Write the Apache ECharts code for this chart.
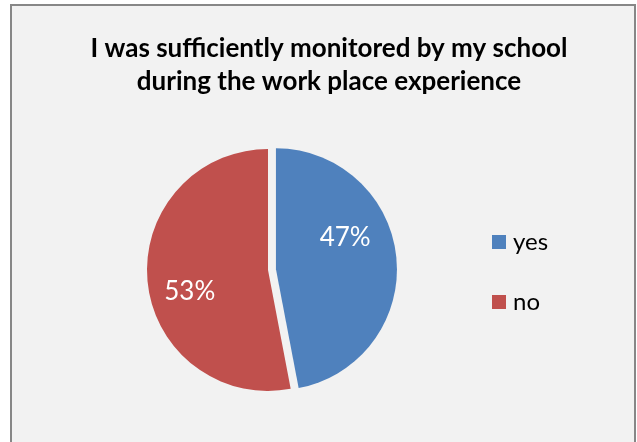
<!DOCTYPE html>
<html>
<head>
<meta charset="utf-8">
<script src="https://cdn.jsdelivr.net/npm/echarts@6/dist/echarts.min.js"></script>
<style>
html,body{margin:0;padding:0;background:#fff;}
#c{width:637px;height:442px;}
</style>
</head>
<body>
<div id="c"></div>
<script>
const titleText = 'I was sufficiently monitored by my school\nduring the work place experience';
const categories = ['yes', 'no'];
const values = [47, 53];
const colors = ['#4f81bd', '#c0504d'];

const labelShift = [[6, -26], [-15, 16]];

const chart = echarts.init(document.getElementById('c'), null, {renderer: 'canvas'});
chart.setOption({
  backgroundColor: '#ffffff',
  animation: false,
  graphic: [{
    type: 'rect',
    z: -10,
    shape: {x: 11, y: 5, width: 624, height: 460},
    style: {fill: '#f2f2f2', stroke: '#878787', lineWidth: 2}
  }],
  title: {
    text: titleText,
    left: 324,
    textAlign: 'center',
    top: 27,
    textStyle: {
      fontFamily: 'Lato',
      fontWeight: 'bold',
      fontSize: 26,
      lineHeight: 33,
      color: '#000'
    }
  },
  legend: {
    orient: 'vertical',
    left: 492,
    top: 230,
    padding: 0,
    icon: 'rect',
    itemWidth: 14,
    itemHeight: 14,
    itemGap: 36,
    data: categories,
    textStyle: {
      fontFamily: 'Lato',
      fontSize: 24,
      lineHeight: 24,
      color: '#000',
      padding: [0, 0, 0, 2]
    }
  },
  series: [{
    type: 'pie',
    center: [268, 270],
    radius: [0, 121],
    startAngle: 90,
    clockwise: true,
    selectedMode: 'single',
    selectedOffset: 8,
    avoidLabelOverlap: false,
    label: {
      show: true,
      position: 'inside',
      formatter: '{d}%',
      color: '#fff',
      fontFamily: 'Lato',
      fontSize: 26
    },
    labelLine: {show: false},
    labelLayout: function (p) {
      const s = labelShift[p.dataIndex];
      return {dx: s[0], dy: s[1]};
    },
    emphasis: {disabled: true},
    itemStyle: {borderWidth: 0},
    data: categories.map((c, i) => ({
      name: c,
      value: values[i],
      selected: i === 0,
      itemStyle: {color: colors[i]}
    }))
  }]
});
</script>
</body>
</html>
